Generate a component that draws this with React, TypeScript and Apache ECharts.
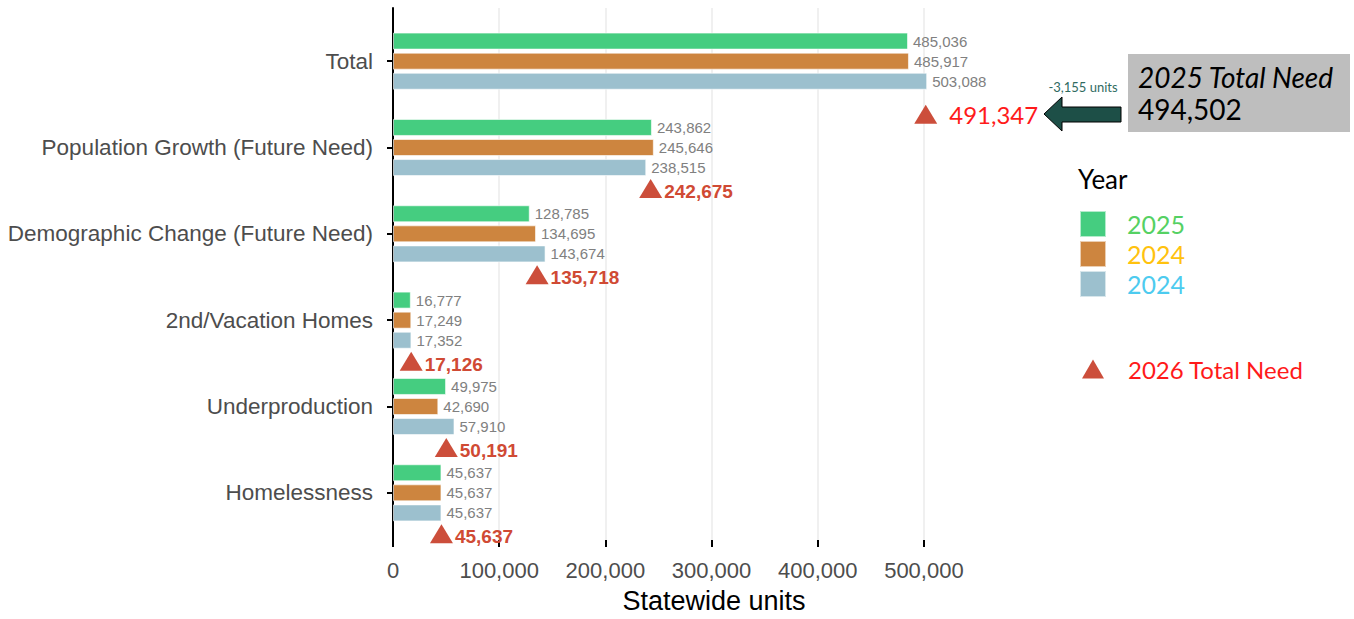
import React, { useEffect, useRef } from "react";
import * as echarts from "echarts";

const categories = [
  "Total",
  "Population Growth (Future Need)",
  "Demographic Change (Future Need)",
  "2nd/Vacation Homes",
  "Underproduction",
  "Homelessness",
];
const values2025 = [485036, 243862, 128785, 16777, 49975, 45637];
const values2024a = [485917, 245646, 134695, 17249, 42690, 45637];
const values2024b = [503088, 238515, 143674, 17352, 57910, 45637];
const need2026 = [491347, 242675, 135718, 17126, 50191, 45637];
const xTicks = [0, 100000, 200000, 300000, 400000, 500000];
const seriesNames = ["2025", "2024", "2024 "];
const seriesColors = ["#45CD80", "#CD853F", "#9CC0CE"];
const legendTextColors = ["#55D163", "#FFC20E", "#4DCBEF"];
const total2025Need = 494502;
const diffLabel = "-3,155 units";

const fmt = (v: number) => v.toLocaleString("en-US");
const SANS = "'Liberation Sans', Arial, sans-serif";
const ROUND = "Lato, 'Open Sans', sans-serif";

export default function App() {
  const ref = useRef<HTMLDivElement>(null);
  useEffect(() => {
    if (!ref.current) return;
    const chart = echarts.init(ref.current, null, { renderer: "svg" });
    const barData = [values2025, values2024a, values2024b];
    const bars = barData.map((arr, k) => ({
      name: seriesNames[k],
      type: "bar",
      xAxisIndex: 1,
      yAxisIndex: 1,
      data: arr,
      barWidth: 17,
      barGap: "18%",
      itemStyle: {
        color: seriesColors[k],
        borderColor: "rgba(255,255,255,0.6)",
        borderWidth: 1,
      },
      label: {
        show: true,
        position: "right",
        distance: 5,
        color: "#808080",
        fontSize: 15,
        fontFamily: SANS,
        formatter: (p: any) => fmt(p.value),
      },
    }));
    const scatterData = need2026.map((v, i) =>
      i === 0
        ? {
            value: [v, i],
            symbolOffset: [11, 53],
            label: {
              fontSize: 24,
              color: "#FF1A1A",
              fontWeight: "normal",
              fontFamily: ROUND,
              distance: 12,
              offset: [0, 0],
            },
          }
        : { value: [v, i] }
    );
    chart.setOption({
      animation: false,
      grid: [
        { left: 393, width: 584, top: 8, height: 537 },
        { left: 393, width: 584, top: 18, height: 518 },
      ],
      xAxis: [
        {
          type: "value",
          gridIndex: 0,
          min: 0,
          max: 550000,
          interval: 50000,
          name: "Statewide units",
          nameLocation: "middle",
          nameGap: 47,
          nameTextStyle: {
            fontSize: 27,
            color: "#000",
            fontFamily: SANS,
            padding: [0, 0, 0, 58],
          },
          axisLine: { show: false },
          axisTick: {
            show: true,
            customValues: xTicks,
            length: 7,
            lineStyle: { color: "#000", width: 2 },
          },
          axisLabel: {
            customValues: xTicks,
            fontSize: 22,
            color: "#4D4D4D",
            fontFamily: SANS,
            margin: 19,
            formatter: (v: number) => fmt(v),
          },
          splitLine: { show: true, lineStyle: { color: "#EBEBEB", width: 1.5 } },
        },
        {
          type: "value",
          gridIndex: 1,
          min: 0,
          max: 550000,
          show: false,
        },
      ],
      yAxis: [
        {
          type: "value",
          gridIndex: 0,
          min: 0,
          max: 1,
          axisLine: { show: true, lineStyle: { color: "#000", width: 2 } },
          axisTick: { show: false },
          axisLabel: { show: false },
          splitLine: { show: false },
        },
        {
          type: "category",
          gridIndex: 1,
          inverse: true,
          data: categories,
          axisLine: { show: false },
          axisTick: {
            show: true,
            alignWithLabel: true,
            length: 6,
            lineStyle: { color: "#000", width: 2 },
          },
          axisLabel: {
            fontSize: 22.5,
            color: "#4D4D4D",
            fontFamily: SANS,
            margin: 20,
          },
        },
      ],
      legend: [
        {
          data: seriesNames.map((n, k) => ({
            name: n,
            textStyle: { color: legendTextColors[k] },
          })),
          formatter: (n: string) => n.trim(),
          orient: "vertical",
          left: 1074,
          top: 205,
          itemWidth: 26,
          itemHeight: 26,
          itemGap: 2,
          icon: "rect",
          selectedMode: false,
          textStyle: {
            fontSize: 25,
            lineHeight: 26,
            fontFamily: ROUND,
            padding: [0, 0, 0, 16],
          },
        },
        {
          data: [{ name: "2026 Total Need", textStyle: { color: "#FF1A1A" } }],
          orient: "vertical",
          left: 1077,
          top: 351,
          itemWidth: 22,
          itemHeight: 19,
          icon: "triangle",
          selectedMode: false,
          itemStyle: { opacity: 1 },
          textStyle: {
            fontSize: 24,
            lineHeight: 26,
            fontFamily: ROUND,
            padding: [0, 0, 0, 19],
          },
        },
      ],
      series: [
        ...bars,
        {
          name: "2026 Total Need",
          type: "scatter",
          xAxisIndex: 1,
          yAxisIndex: 1,
          symbol: "triangle",
          symbolSize: [23, 19],
          symbolOffset: [0, 41],
          itemStyle: { color: "#CC4E3B", opacity: 1 },
          data: scatterData,
          z: 5,
          label: {
            show: true,
            position: "right",
            distance: 2,
            offset: [0, 3],
            color: "#D04A34",
            opacity: 1,
            fontWeight: "bold",
            fontSize: 19,
            fontFamily: SANS,
            formatter: (p: any) => fmt(p.value[0]),
          },
        },
      ],
      graphic: [
        {
          type: "text",
          left: 1078,
          top: 166,
          style: { text: "Year", fontSize: 26, fontFamily: ROUND, fill: "#000" },
        },
        {
          type: "rect",
          shape: { x: 1128, y: 54, width: 222, height: 78 },
          style: { fill: "#BEBEBE" },
        },
        {
          type: "text",
          x: 1138,
          y: 77,
          style: {
            text: "2025 Total Need",
            fontSize: 28,
            fontStyle: "italic",
            fontFamily: ROUND,
            fill: "#000",
            verticalAlign: "middle",
          },
        },
        {
          type: "text",
          x: 1138,
          y: 109,
          style: {
            text: fmt(total2025Need),
            fontSize: 28,
            fontFamily: ROUND,
            fill: "#000",
            verticalAlign: "middle",
          },
        },
        {
          type: "polygon",
          shape: {
            points: [
              [1044, 114],
              [1062, 97],
              [1062, 107],
              [1121, 107],
              [1121, 122],
              [1062, 122],
              [1062, 131],
            ],
          },
          style: { fill: "#1D4F47", stroke: "#000", lineWidth: 1 },
        },
        {
          type: "text",
          x: 1083,
          y: 87,
          style: {
            text: diffLabel,
            fontSize: 13,
            fontFamily: ROUND,
            fill: "#2F6B5F",
            align: "center",
            verticalAlign: "middle",
          },
        },
      ],
    });
    return () => chart.dispose();
  }, []);
  return (
    <div
      ref={ref}
      style={{ position: "fixed", left: 0, top: 0, width: 1354, height: 619, background: "#fff" }}
    />
  );
}
